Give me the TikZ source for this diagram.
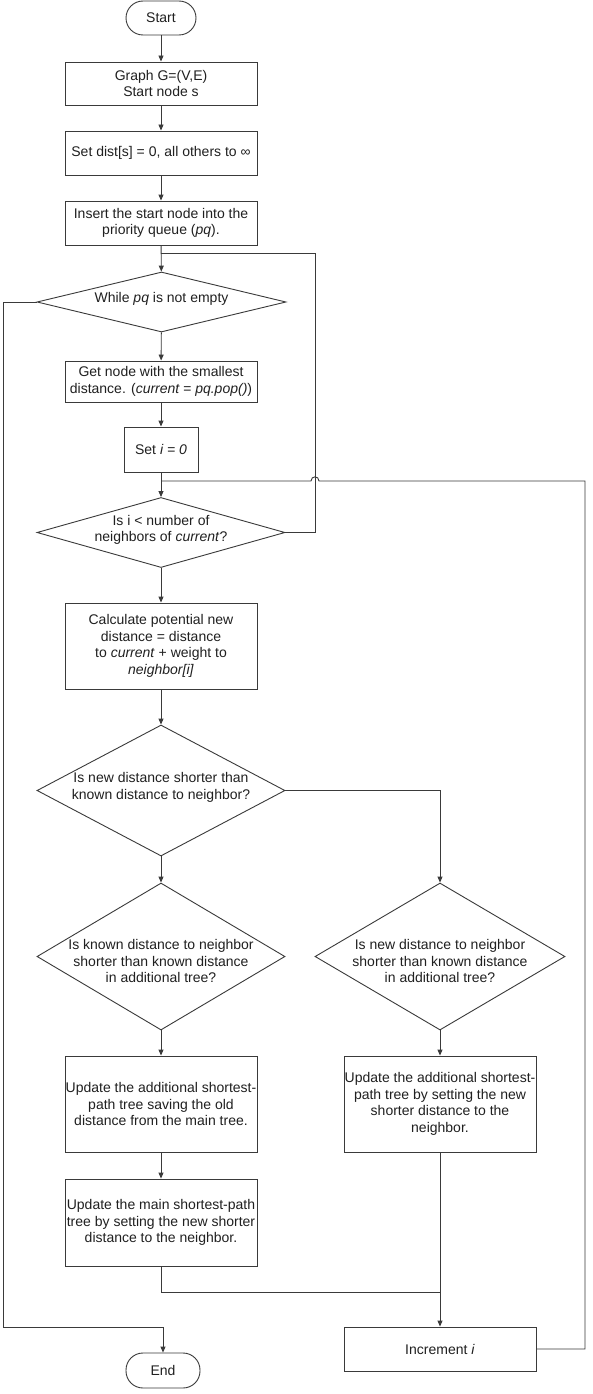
\documentclass[tikz,border=0pt]{standalone}
\usepackage{fontspec}
\setmainfont{Liberation Sans}
\usetikzlibrary{shapes.geometric,arrows.meta}
\definecolor{lc}{HTML}{3A3A3A}
\definecolor{tc}{HTML}{202020}
\newcommand\dtxt[2]{\smash{\makebox[0pt]{\raisebox{#1}{\begin{tabular}{@{}c@{}}#2\end{tabular}}}}}
\begin{document}
\begin{tikzpicture}[x=1pt,y=-1pt,
  font=\fontsize{14}{16.5}\selectfont,
  box/.style={draw=lc, line width=0.9pt, rectangle, inner sep=0pt, align=center, minimum width=192pt, text=tc},
  term/.style={draw=lc, line width=0.9pt, rectangle, rounded corners=17pt, inner sep=0pt, minimum height=34pt, text=tc},
  dia/.style={draw=lc, line width=0.9pt, diamond, inner sep=0pt, text=tc},
  ln/.style={draw=lc, line width=0.9pt},
  arr/.style={draw=lc, line width=0.9pt, -{Triangle[length=6pt,width=5pt]}}]
\useasboundingbox (0,0) rectangle (592,1394);
\fill[white] (0,0) rectangle (592,1394);

\node[term, minimum width=70pt] (start) at (161,18) {Start};
\node[box, minimum height=43pt] (graph) at (161,83.5) {Graph G=(V,E)\\Start node s};
\node[box, minimum height=44pt] (dist) at (161,153) {Set dist[s] = 0, all others to ∞};
\node[box, minimum height=44pt] (insert) at (161,223) {Insert the start node into the\\priority queue (\textit{pq}).};
\node[dia, minimum width=249pt, minimum height=60pt] (while) at (161.5,302) {\dtxt{-1pt}{While \textit{pq} is not empty}};
\node[box, minimum height=41pt] (get) at (161,381.5) {Get node with the smallest\\distance. (\textit{current = pq.pop()})};
\node[box, minimum width=74pt, minimum height=45pt] (seti) at (161,449.5) {Set \textit{i = 0}};
\node[dia, minimum width=248pt, minimum height=70pt] (isi) at (161,532.5) {\dtxt{-1.5pt}{Is i {\fontspec{Liberation Sans}<} number of\\neighbors of \textit{current}?}};
\node[box, minimum height=86pt] (calc) at (161,646) {Calculate potential new\\distance = distance\\to \textit{current} + weight to\\\textit{neighbor[i]}};
\node[dia, minimum width=248pt, minimum height=131pt] (newd) at (161,790.5) {\dtxt{-1pt}{Is new distance shorter than\\known distance to neighbor?}};
\node[dia, minimum width=248pt, minimum height=147pt] (knownd) at (161,956.5) {\dtxt{-10pt}{Is known distance to neighbor\\shorter than known distance\\in additional tree?}};
\node[dia, minimum width=250pt, minimum height=147pt] (newadd) at (440,956.5) {\dtxt{-10pt}{Is new distance to neighbor\\shorter than known distance\\in additional tree?}};
\node[box, minimum height=96pt] (upadd) at (161,1104) {Update the additional shortest-\\path tree saving the old\\distance from the main tree.};
\node[box, minimum height=87pt] (upmain) at (161,1222.5) {Update the main shortest-path\\tree by setting the new shorter\\distance to the neighbor.};
\node[box, minimum height=96pt] (upadd2) at (440,1104) {Update the additional shortest-\\path tree by setting the new\\shorter distance to the\\neighbor.};
\node[box, minimum height=44pt] (inc) at (440,1349) {Increment \textit{i}};
\node[term, minimum width=74pt, minimum height=35pt] (end) at (163,1370.5) {End};

\coordinate (j1) at (161,253);
\coordinate (r1) at (315,253);
\coordinate (j2) at (161,481);
\coordinate (r2) at (585,481);
\coordinate (h1) at (319,481);
\coordinate (h2) at (311,481);
\coordinate (m1) at (440,1292);
\coordinate (l1) at (3,1327);

\draw[arr] (start) -- (graph);
\draw[arr] (graph) -- (dist);
\draw[arr] (dist) -- (insert);
\draw[arr] (insert) -- (while);
\draw[ln] (isi.east) -| (r1) -- (j1);
\draw[arr] (while) -- (get);
\draw[arr] (get) -- (seti);
\draw[arr] (seti) -- (isi);
\draw[arr] (isi) -- (calc);
\draw[arr] (calc) -- (newd);
\draw[arr] (newd) -- (knownd);
\draw[arr] (newd.east) -| (newadd.north);
\draw[arr] (knownd) -- (upadd);
\draw[arr] (upadd) -- (upmain);
\draw[arr] (newadd) -- (upadd2);
\draw[arr] (upadd2) -- (inc);
\draw[ln] (upmain.south) |- (m1);
\draw[ln] (inc.east) -| (r2) -- (h1) .. controls (319,475.5) and (311,475.5) .. (h2) -- (j2);
\draw[arr] (while.west) -| (l1) -| (end.north);
\end{tikzpicture}
\end{document}
